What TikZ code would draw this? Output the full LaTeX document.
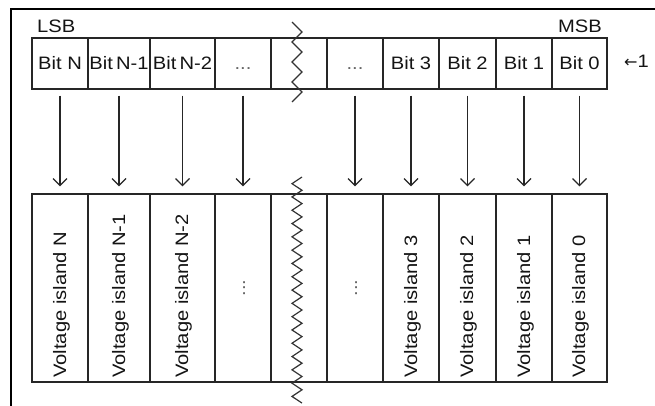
\documentclass[tikz,border=0pt]{standalone}
\usepackage{fontspec}
\setmainfont{Liberation Sans}[FakeStretch=1.12]
\newfontfamily\arrowfont{DejaVu Sans}
\usetikzlibrary{arrows.meta}
\begin{document}
\begin{tikzpicture}[x=1pt,y=-1pt,
  lbl/.style={font=\fontsize{18}{20}\selectfont, text=black!92, inner sep=0pt},
  frameline/.style={line width=2pt, draw=black},
  cellbox/.style={draw=black!85, line width=1.3pt, inner sep=0pt,
                  font=\fontsize{18}{20}\selectfont, text=black!92},
  arr/.style={-{Straight Barb[length=7pt,width=14pt]}, line width=1.2pt, draw=black!85,
              shorten <=6pt, shorten >=7pt},
  zig/.style={line width=1.2pt, draw=black!80, line join=miter},
  vtext/.style={lbl, rotate=90, anchor=base west},
  dots/.style={lbl, text=black!60}
]
\useasboundingbox (0,0) rectangle (655,406);

% outer frame (top and left edges)
\draw[frameline] (11,406) -- (11,9) -- (655,9);

% register cells: left/right edges and contents
\foreach \l/\r/\n/\t in {32/88/1/{Bit N}, 88/150/2/{Bit\,N-1}, 150/215/3/{Bit\,N-2},
                        215/271/4/{}, 271/327/5/{}, 327/383/6/{},
                        383/439/7/{Bit 3}, 439/496/8/{Bit 2}, 496/552/9/{Bit 1},
                        552/607/10/{Bit 0}} {
  \pgfmathsetmacro\w{\r-\l}
  \pgfmathsetmacro\c{(\r+\l)/2}
  \node[cellbox, minimum width=\w pt, minimum height=51pt] (t\n) at (\c,63.5) {\t};
  \node[cellbox, minimum width=\w pt, minimum height=188pt] (b\n) at (\c,288) {};
}

% ellipses in the elided cells
\node[dots, anchor=base] (d1) at (243,70) {...};
\node[dots, anchor=base] (d2) at (355,70) {...};
\node[dots, rotate=90, anchor=base] (d3) at (245,288) {...};
\node[dots, rotate=90, anchor=base] (d4) at (357,288) {...};

% voltage island labels, written bottom to top
\node[vtext] (v1)  at (66,378)  {Voltage island N};
\node[vtext] (v2)  at (125,378) {Voltage island N-1};
\node[vtext] (v3)  at (188,378) {Voltage island N-2};
\node[vtext] (v7)  at (417,378) {Voltage island 3};
\node[vtext] (v8)  at (473,378) {Voltage island 2};
\node[vtext] (v9)  at (530,378) {Voltage island 1};
\node[vtext] (v10) at (585,378) {Voltage island 0};

% bit order labels
\node[lbl, anchor=base west] (lsb) at (37,33) {LSB};
\node[lbl, anchor=base east] (msb) at (602,33) {MSB};
\node[lbl, anchor=base west] (shift) at (624,68) {{\arrowfont\fontsize{16}{18}\selectfont ←}1};

% bit-to-island arrows
\foreach \n in {1,2,3,4,6,7,8,9,10}
  \draw[arr] (t\n.south) -- (b\n.north);

% break marks through the elided column
\draw[zig] (292,22) \foreach \i in {1,...,8} { -- ({292+10*mod(\i,2)},{22+10*\i}) };
\draw[zig] (302,177) \foreach \i in {1,...,34} { -- ({302-10*mod(\i,2)},{177+6.65*\i}) };
\end{tikzpicture}
\end{document}
